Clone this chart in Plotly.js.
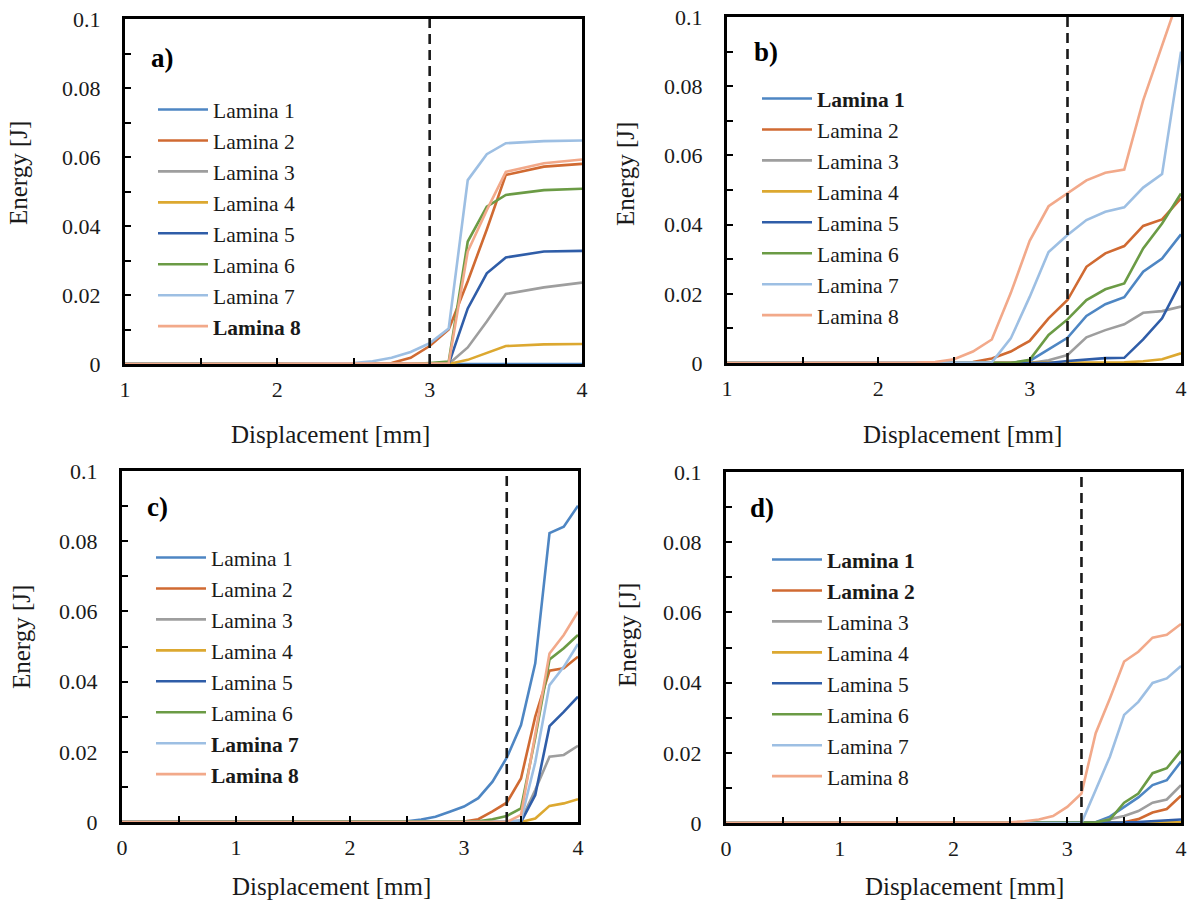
<!DOCTYPE html>
<html><head><meta charset="utf-8">
<script src="https://cdn.plot.ly/plotly-3.0.1.min.js"></script>
<style>html,body{margin:0;padding:0;background:#fff}#chart{width:1188px;height:902px}</style>
</head><body><div id="chart"></div>
<script>
// ---------- DATA ----------
const laminaNames = ['Lamina 1','Lamina 2','Lamina 3','Lamina 4','Lamina 5','Lamina 6','Lamina 7','Lamina 8'];
const laminaColors = ['#4E86C3','#D06A32','#9E9E9E','#DCA830','#2F5DA8','#6B9B45','#9DBFE3','#F2A98A'];
const panelLabels = ['a)','b)','c)','d)'];
const xTitle = 'Displacement [mm]';
const yTitle = 'Energy [J]';

// panel a
const dispA = [1, 1.5, 2, 2.5, 2.625, 2.75, 2.875, 3, 3.125, 3.25, 3.375, 3.5, 3.75, 4];
const energyA = [
  [0,0,0,0,0,0,0,0,0,0,0,0,0,0],
  [0,0,0,0,0,0.0003,0.0018,0.0052,0.0100,0.024,0.039,0.0548,0.0572,0.058],
  [0,0,0,0,0,0,0,0,0,0.0048,0.0123,0.0203,0.0222,0.0236],
  [0,0,0,0,0,0,0,0,0,0.0012,0.0031,0.0052,0.0057,0.0058],
  [0,0,0,0,0,0,0,0,0,0.0161,0.0263,0.0309,0.0326,0.0328],
  [0,0,0,0,0,0,0,0.0003,0.0007,0.0355,0.0456,0.049,0.0504,0.0508],
  [0,0,0,0.0003,0.0008,0.0018,0.0035,0.006,0.0103,0.0533,0.0608,0.064,0.0646,0.0648],
  [0,0,0,0,0,0,0,0,0.0002,0.0326,0.0446,0.0557,0.0582,0.0593]
];
const boldA = [8];
const dashA = 3;

// panel b
const dispB = [1, 1.5, 2, 2.25, 2.375, 2.5, 2.625, 2.75, 2.875, 3, 3.125, 3.25, 3.375, 3.5, 3.625, 3.75, 3.875, 4];
const energyB = [
  [0,0,0,0,0,0,0,0,0,0.0006,0.004,0.0073,0.0136,0.017,0.019,0.0264,0.0302,0.0372],
  [0,0,0,0,0,0.0001,0.0003,0.0013,0.0033,0.0064,0.0129,0.0182,0.0278,0.0317,0.0338,0.0396,0.0415,0.0476],
  [0,0,0,0,0,0,0,0,0,0,0.0008,0.0023,0.0074,0.0095,0.0112,0.0145,0.015,0.0163],
  [0,0,0,0,0,0,0,0,0,0,0,0,0,0,0.0002,0.0005,0.0011,0.0028],
  [0,0,0,0,0,0,0,0,0,0,0,0.0006,0.0011,0.0014,0.0015,0.0068,0.0129,0.0235],
  [0,0,0,0,0,0,0,0,0,0.0009,0.0081,0.0126,0.0182,0.0213,0.023,0.0331,0.0403,0.049],
  [0,0,0,0,0,0,0,0.0002,0.0071,0.0191,0.0321,0.037,0.0413,0.0437,0.045,0.0507,0.0546,0.090],
  [0,0,0,0.0001,0.0003,0.0011,0.0033,0.0068,0.0202,0.0353,0.0453,0.049,0.0528,0.055,0.0559,0.0759,0.0918,0.1076]
];
const boldB = [1];
const dashB = 3.25;

// panel c
const dispC = [0, 0.5, 1, 1.5, 2, 2.5, 2.625, 2.75, 2.875, 3, 3.125, 3.25, 3.375, 3.5, 3.625, 3.75, 3.875, 4];
const energyC = [
  [0,0,0,0,0,0.0002,0.0007,0.0015,0.0029,0.0044,0.0068,0.0115,0.0183,0.0276,0.0452,0.0823,0.0841,0.0901],
  [0,0,0,0,0,0,0,0,0,0.0001,0.0008,0.003,0.0055,0.0124,0.030,0.0431,0.0438,0.0471],
  [0,0,0,0,0,0,0,0,0,0,0,0,0,0.0005,0.0091,0.0186,0.0191,0.0217],
  [0,0,0,0,0,0,0,0,0,0,0,0,0,0,0.001,0.0046,0.0053,0.0065],
  [0,0,0,0,0,0,0,0,0,0,0,0,0,0,0.0077,0.0273,0.0314,0.0357],
  [0,0,0,0,0,0,0,0,0,0,0.0002,0.0008,0.0017,0.0039,0.024,0.0463,0.0495,0.0533],
  [0,0,0,0,0,0,0,0,0,0,0,0,0,0.0005,0.017,0.039,0.0442,0.0507],
  [0,0,0,0,0,0,0,0,0,0,0,0,0,0.002,0.025,0.048,0.0533,0.0599]
];
const boldC = [7, 8];
const dashC = 3.375;

// panel d
const dispD = [0, 0.5, 1, 1.5, 2, 2.5, 2.625, 2.75, 2.875, 3, 3.125, 3.25, 3.375, 3.5, 3.625, 3.75, 3.875, 4];
const energyD = [
  [0,0,0,0,0,0,0,0,0,0,0,0.0002,0.0018,0.0046,0.0073,0.0108,0.0122,0.0175],
  [0,0,0,0,0,0,0,0,0,0,0,0,0,0.0002,0.0011,0.003,0.004,0.0078],
  [0,0,0,0,0,0,0,0,0,0,0,0.0001,0.0011,0.002,0.0034,0.0058,0.0067,0.0108],
  [0,0,0,0,0,0,0,0,0,0,0,0,0,0,0,0,0.0001,0.0002],
  [0,0,0,0,0,0,0,0,0,0,0,0,0,0.0002,0.0003,0.0005,0.0006,0.001],
  [0,0,0,0,0,0,0,0,0,0,0,0.0002,0.001,0.0058,0.0084,0.0142,0.0156,0.0206],
  [0,0,0,0,0,0,0,0,0,0,0,0.0094,0.0189,0.0308,0.0345,0.0399,0.0412,0.0447],
  [0,0,0,0,0,0.0002,0.0005,0.001,0.002,0.0046,0.0084,0.0256,0.0355,0.046,0.0488,0.0528,0.0536,0.0567]
];
const boldD = [1, 2];
const dashD = 3.125;

// ---------- LAYOUT ----------
const W = 1188, H = 902;
const FONT = 'Liberation Serif';
const TXT = '#1a1a1a';
// pixel boxes [left, right, top, bottom]
const boxes = [[125, 582, 19, 364], [727, 1181, 17, 363], [122, 578, 471, 822], [726, 1181, 472, 823]];
const xRanges = [[1, 4], [1, 4], [0, 4], [0, 4]];
const legendPos = [[153, 89], [757, 78], [151, 537], [767, 539]];
const labelPos = [[162, 58], [766, 52], [157, 507], [762, 508]];
const xTitlePos = [[330, 434], [962, 434], [331, 886], [964, 886]];
const yTitlePos = [[19, 173], [626, 174], [21, 637], [627, 635]];

const panels = [
  {x: dispA, e: energyA, bold: boldA, dash: dashA},
  {x: dispB, e: energyB, bold: boldB, dash: dashB},
  {x: dispC, e: energyC, bold: boldC, dash: dashC},
  {x: dispD, e: energyD, bold: boldD, dash: dashD}
];

const data = [];
const layout = {
  width: W, height: H, margin: {l: 0, r: 0, t: 0, b: 0},
  paper_bgcolor: '#fff', plot_bgcolor: '#fff',
  showlegend: true, shapes: [], annotations: [],
  font: {family: FONT, color: TXT}
};

panels.forEach((p, i) => {
  const n = i === 0 ? '' : String(i + 1);
  const xa = 'x' + n, ya = 'y' + n;
  const leg = 'legend' + n;
  p.e.forEach((vals, k) => {
    const nm = p.bold.includes(k + 1) ? '<b>' + laminaNames[k] + '</b>' : laminaNames[k];
    data.push({
      type: 'scatter', mode: 'lines', x: p.x, y: vals, name: nm,
      xaxis: xa, yaxis: ya, legend: leg,
      line: {color: laminaColors[k], width: 2.6}, hoverinfo: 'skip', cliponaxis: true
    });
  });
  const b = boxes[i];
  const axCommon = {
    showline: true, linecolor: '#000', linewidth: 3, mirror: true,
    showgrid: false, zeroline: false, ticks: 'inside', ticklen: 6, tickwidth: 2, tickcolor: '#000',
    tickfont: {family: FONT, size: 22, color: TXT}
  };
  layout['xaxis' + n] = Object.assign({}, axCommon, {
    domain: [b[0] / W, b[1] / W], range: xRanges[i], anchor: ya, dtick: 1, tick0: 0,
    minor: {dtick: 0.5, tick0: 0, ticks: 'inside', ticklen: 6, tickwidth: 2, tickcolor: '#000', showgrid: false},
    ticklabelstandoff: 4
  });
  layout['yaxis' + n] = Object.assign({}, axCommon, {
    domain: [1 - b[3] / H, 1 - b[2] / H], range: [0, 0.1], anchor: xa, dtick: 0.02, tick0: 0,
    minor: {dtick: 0.01, tick0: 0, ticks: 'inside', ticklen: 6, tickwidth: 2, tickcolor: '#000', showgrid: false},
    ticklabelstandoff: 17
  });
  layout.shapes.push({
    type: 'line', xref: xa, yref: ya + ' domain', x0: p.dash, x1: p.dash, y0: 0, y1: 1,
    line: {color: '#1a1a1a', width: 2.6, dash: '10px,6px'}, layer: 'above'
  });
  layout.annotations.push({
    xref: 'paper', yref: 'paper', x: labelPos[i][0] / W, y: 1 - labelPos[i][1] / H,
    xanchor: 'center', yanchor: 'middle', showarrow: false,
    text: '<b>' + panelLabels[i] + '</b>', font: {family: FONT, size: 27, color: '#000'}
  });
  layout.annotations.push({
    xref: 'paper', yref: 'paper', x: xTitlePos[i][0] / W, y: 1 - xTitlePos[i][1] / H,
    xanchor: 'center', yanchor: 'middle', showarrow: false,
    text: xTitle, font: {family: FONT, size: 25, color: TXT}
  });
  layout.annotations.push({
    xref: 'paper', yref: 'paper', x: yTitlePos[i][0] / W, y: 1 - yTitlePos[i][1] / H,
    xanchor: 'center', yanchor: 'middle', showarrow: false, textangle: -90,
    text: yTitle, font: {family: FONT, size: 25, color: TXT}
  });
  layout[leg] = {
    x: legendPos[i][0] / W, y: 1 - legendPos[i][1] / H, xanchor: 'left', yanchor: 'top',
    bgcolor: 'rgba(0,0,0,0)', borderwidth: 0, itemwidth: 50, tracegroupgap: 0,
    font: {family: FONT, size: 21.5, color: TXT}, traceorder: 'normal'
  };
});

Plotly.newPlot('chart', data, layout, {staticPlot: true, displayModeBar: false});
</script>
</body></html>
